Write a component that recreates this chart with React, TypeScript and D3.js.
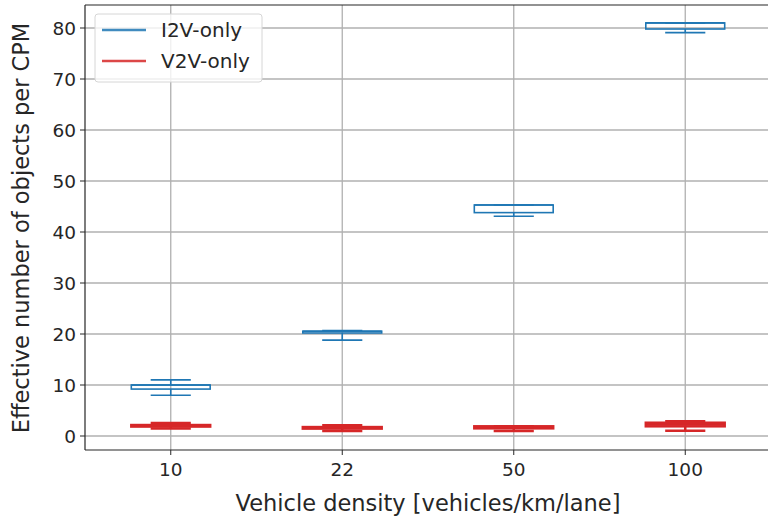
import React from "react";
import * as d3 from "d3";

const categories = ["10", "22", "50", "100"];
const seriesNames = ["I2V-only", "V2V-only"];
const seriesColors = ["#1f77b4", "#d62728"];
// [whiskerLow, q1, median, q3, whiskerHigh]
const i2vStats = [
  [8.0, 9.2, 10.0, 10.0, 11.0],
  [18.8, 20.2, 20.55, 20.55, 20.7],
  [43.1, 43.8, 45.3, 45.3, 45.3],
  [79.1, 79.8, 81.0, 81.0, 81.0],
];
const v2vStats = [
  [1.45, 1.85, 2.0, 2.15, 2.55],
  [1.0, 1.45, 1.6, 1.75, 2.1],
  [1.0, 1.5, 1.7, 1.9, 1.9],
  [1.05, 1.9, 2.3, 2.6, 2.9],
];
const yTicks = [0, 10, 20, 30, 40, 50, 60, 70, 80];

const W = 768;
const H = 520;
const left = 85;
const top = 5;
const bottom = 450;
const step = 171.5;

export default function App() {
  const x = d3.scaleLinear().domain([0.5, 4.5]).range([left, left + 4 * step]);
  const y = d3.scaleLinear().domain([-2.745, 84.51]).range([bottom, top]);
  const right = left + 4 * step;
  const font = "DejaVu Sans, sans-serif";
  const boxW = 0.23;
  const capW = 0.117;

  const renderBoxes = (stats: number[][], color: string, sw: number) =>
    stats.map((s, i) => {
      const cx = x(i + 1);
      const hw = x(1 + boxW) - x(1);
      const cw = x(1 + capW) - x(1);
      return (
        <g key={i} stroke={color} strokeWidth={sw} fill="none">
          <line x1={cx} x2={cx} y1={y(s[0])} y2={y(s[1])} />
          <line x1={cx} x2={cx} y1={y(s[3])} y2={y(s[4])} />
          <line x1={cx - cw} x2={cx + cw} y1={y(s[0])} y2={y(s[0])} />
          <line x1={cx - cw} x2={cx + cw} y1={y(s[4])} y2={y(s[4])} />
          <rect x={cx - hw} y={y(s[3])} width={2 * hw} height={Math.max(0, y(s[1]) - y(s[3]))} />
          <line x1={cx - hw} x2={cx + hw} y1={y(s[2])} y2={y(s[2])} />
        </g>
      );
    });

  return (
    <svg width={W} height={H} style={{ position: "absolute", left: 0, top: 0, background: "#fff" }}>
      <rect x={0} y={0} width={W} height={H} fill="#fff" />
      <g stroke="#b0b0b0" strokeWidth={1.3}>
        {yTicks.map((t) => (
          <line key={t} x1={left} x2={right} y1={y(t)} y2={y(t)} />
        ))}
        {categories.map((c, i) => (
          <line key={c} x1={x(i + 1)} x2={x(i + 1)} y1={top} y2={bottom} />
        ))}
      </g>
      {renderBoxes(i2vStats, seriesColors[0], 1.6)}
      {renderBoxes(v2vStats, seriesColors[1], 2.5)}
      <g stroke="#262626" strokeWidth={1.2} fill="none">
        <line x1={left} x2={left} y1={top} y2={bottom} />
        <line x1={left} x2={right} y1={bottom} y2={bottom} />
        <line x1={left} x2={right} y1={top} y2={top} />
        <line x1={right} x2={right} y1={top} y2={bottom} />
      </g>
      {yTicks.map((t) => (
        <g key={t}>
          <line x1={left - 5} x2={left} y1={y(t)} y2={y(t)} stroke="#262626" strokeWidth={1} />
          <text x={left - 9} y={y(t)} dy="0.36em" textAnchor="end" fontFamily={font} fontSize={18.5} fill="#262626">
            {t}
          </text>
        </g>
      ))}
      {categories.map((c, i) => (
        <g key={c}>
          <line x1={x(i + 1)} x2={x(i + 1)} y1={bottom} y2={bottom + 5} stroke="#262626" strokeWidth={1} />
          <text x={x(i + 1)} y={bottom + 26} textAnchor="middle" fontFamily={font} fontSize={18.5} fill="#262626">
            {c}
          </text>
        </g>
      ))}
      <text x={428} y={511} textAnchor="middle" fontFamily={font} fontSize={22.5} fill="#262626">
        Vehicle density [vehicles/km/lane]
      </text>
      <text
        transform={`translate(29,${228}) rotate(-90)`}
        textAnchor="middle"
        fontFamily={font}
        fontSize={22.5}
        fill="#262626"
      >
        Effective number of objects per CPM
      </text>
      <g>
        <rect x={95} y={14} width={167} height={68} rx={3} fill="#fff" fillOpacity={0.8} stroke="#d6d6d6" strokeWidth={1} />
        {seriesNames.map((n, i) => (
          <g key={n}>
            <line x1={102} x2={146} y1={30 + i * 31} y2={30 + i * 31} stroke={seriesColors[i]} strokeWidth={2.5} opacity={0.85} />
            <text x={161} y={30 + i * 31} dy="0.36em" fontFamily={font} fontSize={20} fill="#262626">
              {n}
            </text>
          </g>
        ))}
      </g>
    </svg>
  );
}
